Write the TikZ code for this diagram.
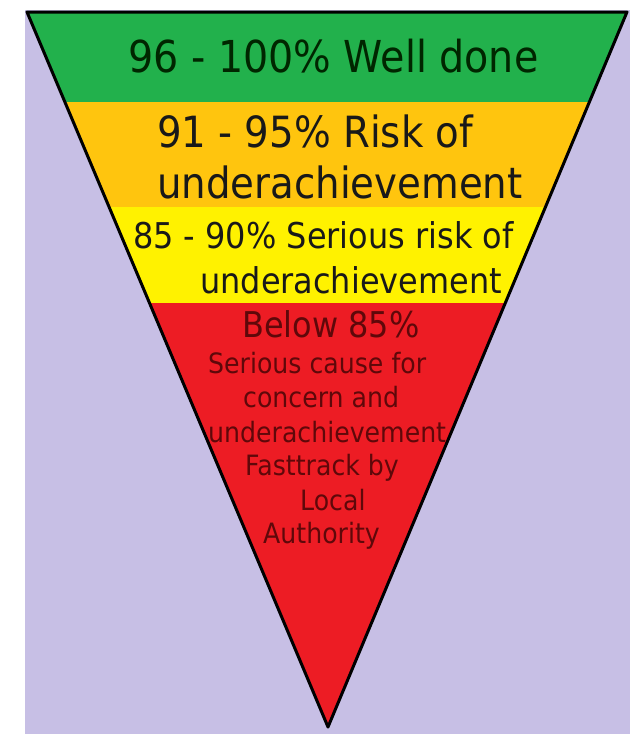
\documentclass[tikz,border=0pt]{standalone}
\usepackage{fontspec}
\setmainfont{DejaVu Sans}[FakeStretch=0.9]
\definecolor{lav}{RGB}{199,191,229}
\definecolor{pgreen}{RGB}{34,177,76}
\definecolor{porange}{RGB}{255,197,14}
\definecolor{pyellow}{RGB}{255,242,0}
\definecolor{pred}{RGB}{237,28,36}
\definecolor{dred}{RGB}{95,8,10}
\tikzset{
  lbl/.style={anchor=base west, inner sep=0pt},
  bigtxt/.style={lbl, font=\fontsize{43}{43}\selectfont},
  midtxt/.style={lbl, font=\fontsize{35.5}{36}\selectfont},
  smalltxt/.style={lbl, font=\fontsize{28}{28}\selectfont, text=dred},
}
\begin{document}
\begin{tikzpicture}[x=1pt,y=-1pt]
    \useasboundingbox (0,0) rectangle (630,734);
    \fill[white] (0,0) rectangle (630,734);
    \fill[lav] (25,10) rectangle (630,734);

    % corners of the funnel
    \coordinate (tl) at (27,12); \coordinate (tr) at (627,12);
    \coordinate (ap) at (328,727);

    % colour bands, cut to the funnel
    \begin{scope}
        \clip (tl)--(tr)--(ap)--cycle;
        \fill[pred] (0,0) rectangle (630,734);
        \fill[pgreen] (0,0) rectangle (630,102);
        \fill[porange] (0,102) rectangle (630,207);
        \fill[pyellow] (0,207) rectangle (630,303);
    \end{scope}
    \draw[line width=3pt, line join=round] (tl)--(tr)--(ap)--cycle;

    % Top (green)
    \node[bigtxt, font=\fontsize{44}{44}\selectfont, text=black!85!green] (g1) at (128,72) {96 - 100\% Well done};

    % Orange
    \node[bigtxt, text=black!90] (o1) at (157,147) {91 - 95\% Risk of};
    \node[bigtxt, text=black!90] (o2) at (157,198) {underachievement};

    % Yellow
    \node[midtxt, text=black!90] (y1) at (133,248) {85 - 90\% Serious risk of};
    \node[midtxt, text=black!90] (y2) at (200,293) {underachievement};

    % Red (bottom)
    \node[midtxt, text=dred] (r0) at (242,337) {Below 85\%};
    \foreach \t/\x/\y [count=\i] in {Serious cause for/208/373, concern and/243/407,
        underachievement/208/442, Fasttrack by/245/475, Local/300/510, Authority/263/543}
        \node[smalltxt] (r\i) at (\x,\y) {\t};
\end{tikzpicture}
\end{document}
